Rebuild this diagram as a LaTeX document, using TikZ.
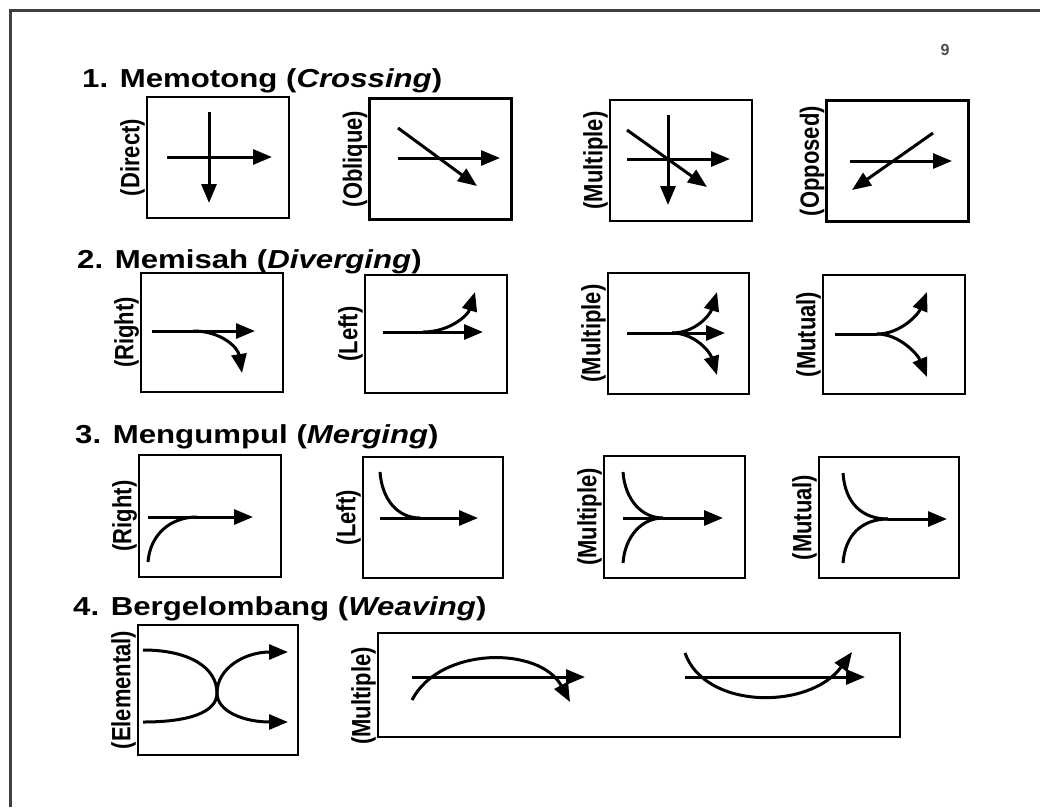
\documentclass[tikz,border=0pt]{standalone}
\usepackage{fontspec}
\setmainfont{Liberation Sans}
\usetikzlibrary{arrows.meta, positioning}

\begin{document}
\begin{tikzpicture}[x=1pt, y=-1pt,
        panel/.style={draw, line width=2.6pt, inner sep=0pt, minimum width=142pt, minimum height=121pt},
        tag/.style={anchor=south, inner sep=0.5pt, font=\bfseries\fontsize{22}{22}\selectfont, xscale=1.2, rotate=90},
        heading/.style={anchor=base west, inner sep=0pt, font=\bfseries\fontsize{26}{26}\selectfont, xscale=1.2},
        flow/.style={draw, line width=3pt, -{Triangle[length=19pt,width=15pt]}},
        stem/.style={draw, line width=3pt}]

        \useasboundingbox (0,0) rectangle (1040,807);
        \draw[line width=3pt, black!75] (10,807) -- (10,10) -- (1040,10);
        \node[text=black!70, font=\bfseries\fontsize{16}{16}\selectfont] (pageno) at (945,50) {9};

        % Headings
        \node[heading] (h1) at (82,87) {1. Memotong (\textit{Crossing})};
        \node[heading] (h2) at (77,268) {2. Memisah (\textit{Diverging})};
        \node[heading] (h3) at (75,443) {3. Mengumpul (\textit{Merging})};
        \node[heading] (h4) at (73,615) {4. Bergelombang (\textit{Weaving})};

        % Row 1 - crossing
        \node[panel] (direct) at (218,157.5) {};
        \node[panel] (oblique) at (440.5,159) {};
        \node[panel] (crossmulti) at (681,160.5) {};
        \node[panel] (opposed) at (897.5,161) {};
        \node[tag] at (direct.west) {(Direct)};
        \node[tag] at (oblique.west) {(Oblique)};
        \node[tag] at (crossmulti.west) {(Multiple)};
        \node[tag] at (opposed.west) {(Opposed)};

        \path[flow] (167,157) -- (272,157);
        \path[flow] (209,112) -- (209,203);
        \path[flow] (398,158) -- (500,158);
        \path[flow] (398,128) -- (477,186);
        \path[flow] (627,159) -- (730,159);
        \path[flow] (668,115) -- (668,205);
        \path[flow] (627,130) -- (707,187);
        \path[flow] (850,161) -- (952,161);
        \path[flow] (933,133) -- (852,190);

        % Row 2 - diverging
        \node[panel, minimum height=119pt] (divright) at (212,332.5) {};
        \node[panel, minimum height=118pt] (divleft) at (436,334) {};
        \node[panel, minimum width=141pt] (divmulti) at (678.5,333.5) {};
        \node[panel, minimum height=119pt] (divmutual) at (894,334.5) {};
        \node[tag] at (divright.west) {(Right)};
        \node[tag] at (divleft.west) {(Left)};
        \node[tag] at (divmulti.west) {(Multiple)};
        \node[tag] at (divmutual.west) {(Mutual)};

        \path[flow] (152,331) -- (255,331);
        \path[flow] (193,331) .. controls (222,331) and (238,348) .. (242,373);
        \path[flow] (383,332) -- (483,332);
        \path[flow] (423,332) .. controls (450,332) and (468,315) .. (475,292);
        \path[flow] (627,333) -- (725,333);
        \path[flow] (672,333) .. controls (695,333) and (710,315) .. (717,292);
        \path[flow] (672,333) .. controls (695,333) and (710,352) .. (717,375);
        \path[stem] (835,334) -- (877,334);
        \path[flow] (877,334) .. controls (900,334) and (918,315) .. (927,292);
        \path[flow] (877,334) .. controls (900,334) and (918,355) .. (927,377);

        % Row 3 - merging
        \node[panel, minimum height=122pt] (mergeright) at (210,516) {};
        \node[panel, minimum width=140pt] (mergeleft) at (433,517.5) {};
        \node[panel, minimum width=141pt, minimum height=122pt] (mergemulti) at (674.5,517) {};
        \node[panel, minimum width=140pt] (mergemutual) at (889,517.5) {};
        \node[tag] at (mergeright.west) {(Right)};
        \node[tag] at (mergeleft.west) {(Left)};
        \node[tag] at (mergemulti.west) {(Multiple)};
        \node[tag] at (mergemutual.west) {(Mutual)};

        \path[flow] (148,517) -- (253,517);
        \path[stem] (148,562) .. controls (150,535) and (170,517) .. (197,517);
        \path[flow] (380,518) -- (478,518);
        \path[stem] (380,472) .. controls (382,500) and (398,518) .. (420,518);
        \path[flow] (623,518) -- (723,518);
        \path[stem] (623,472) .. controls (625,500) and (642,518) .. (663,518);
        \path[stem] (623,563) .. controls (625,536) and (642,518) .. (663,518);
        \path[flow] (888,519) -- (947,519);
        \path[stem] (843,473) .. controls (845,503) and (862,519) .. (888,519);
        \path[stem] (843,563) .. controls (845,535) and (862,519) .. (888,519);

        % Row 4 - weaving
        \node[panel, minimum width=160pt, minimum height=130pt] (elemental) at (218,690) {};
        \node[panel, minimum width=522pt, minimum height=104pt] (weavemulti) at (639,685) {};
        \node[tag] at (elemental.west) {(Elemental)};
        \node[tag] at ([yshift=-11pt]weavemulti.west) {(Multiple)};

        \path[flow] (143,650) .. controls (190,650) and (217,668) .. (217,693)
                    .. controls (217,712) and (245,722) .. (288,722);
        \path[flow] (143,722) .. controls (190,722) and (217,712) .. (217,693)
                    .. controls (217,668) and (245,652) .. (288,652);
        \path[flow] (412,677) -- (585,677);
        \path[flow] (412,700) .. controls (440,646) and (540,646) .. (570,702);
        \path[flow] (685,677) -- (865,677);
        \path[flow] (685,653) .. controls (705,710) and (810,710) .. (852,652);
    \end{tikzpicture}
\end{document}
